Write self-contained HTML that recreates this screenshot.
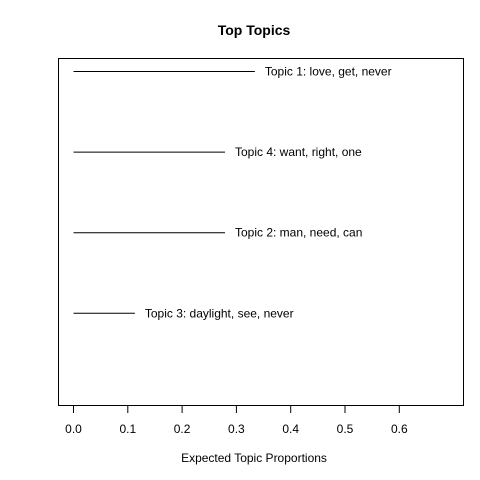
<!DOCTYPE html>
<html><head><meta charset="utf-8"><style>body{margin:0;background:#fff}svg{display:block}text{font-family:"Liberation Sans",Arial,sans-serif;fill:#000}</style></head>
<body>
<svg id="c" width="480" height="480" xmlns="http://www.w3.org/2000/svg">
<text x="254" y="35" text-anchor="middle" font-size="14" font-weight="bold">Top Topics</text>
<rect x="58.5" y="58.5" width="405" height="347" fill="none" stroke="#000" stroke-width="1"/>
<text x="254" y="462" text-anchor="middle" font-size="12">Expected Topic Proportions</text>
<g id="ax"></g>
<g id="marks"></g>
</svg>
<script>
const topicLabels=["Topic 1: love, get, never","Topic 4: want, right, one","Topic 2: man, need, can","Topic 3: daylight, see, never"];
const proportions=[0.334,0.279,0.279,0.113];
const tickValues=[0,0.1,0.2,0.3,0.4,0.5,0.6];
const tickLabels=["0.0","0.1","0.2","0.3","0.4","0.5","0.6"];
const NS="http://www.w3.org/2000/svg";
const x=v=>73.5+v*543;
const y=i=>71.5+i*80.6;
const ax=document.getElementById('ax'),mk=document.getElementById('marks');
function mkEl(t,a){const e=document.createElementNS(NS,t);for(const k in a)e.setAttribute(k,a[k]);return e;}
tickValues.forEach((v,i)=>{
 const l=mkEl('line',{x1:x(v),x2:x(v),y1:406,y2:413,stroke:'#000'});
 
 
 ax.appendChild(l);
 const t=mkEl('text',{x:x(v),y:433,'text-anchor':'middle','font-size':'12'});
 t.textContent=tickLabels[i];
 
 
 ax.appendChild(t);
});
proportions.forEach((p,i)=>{
 const l=mkEl('line',{x1:x(0),x2:x(p),y1:y(i),y2:y(i),stroke:'#000','stroke-width':1});
 
 
 mk.appendChild(l);
 const t=mkEl('text',{x:x(p)+10,y:y(i)+4,'font-size':'12'});
 t.textContent=topicLabels[i];
 
 
 mk.appendChild(t);
});
</script>
</body></html>
